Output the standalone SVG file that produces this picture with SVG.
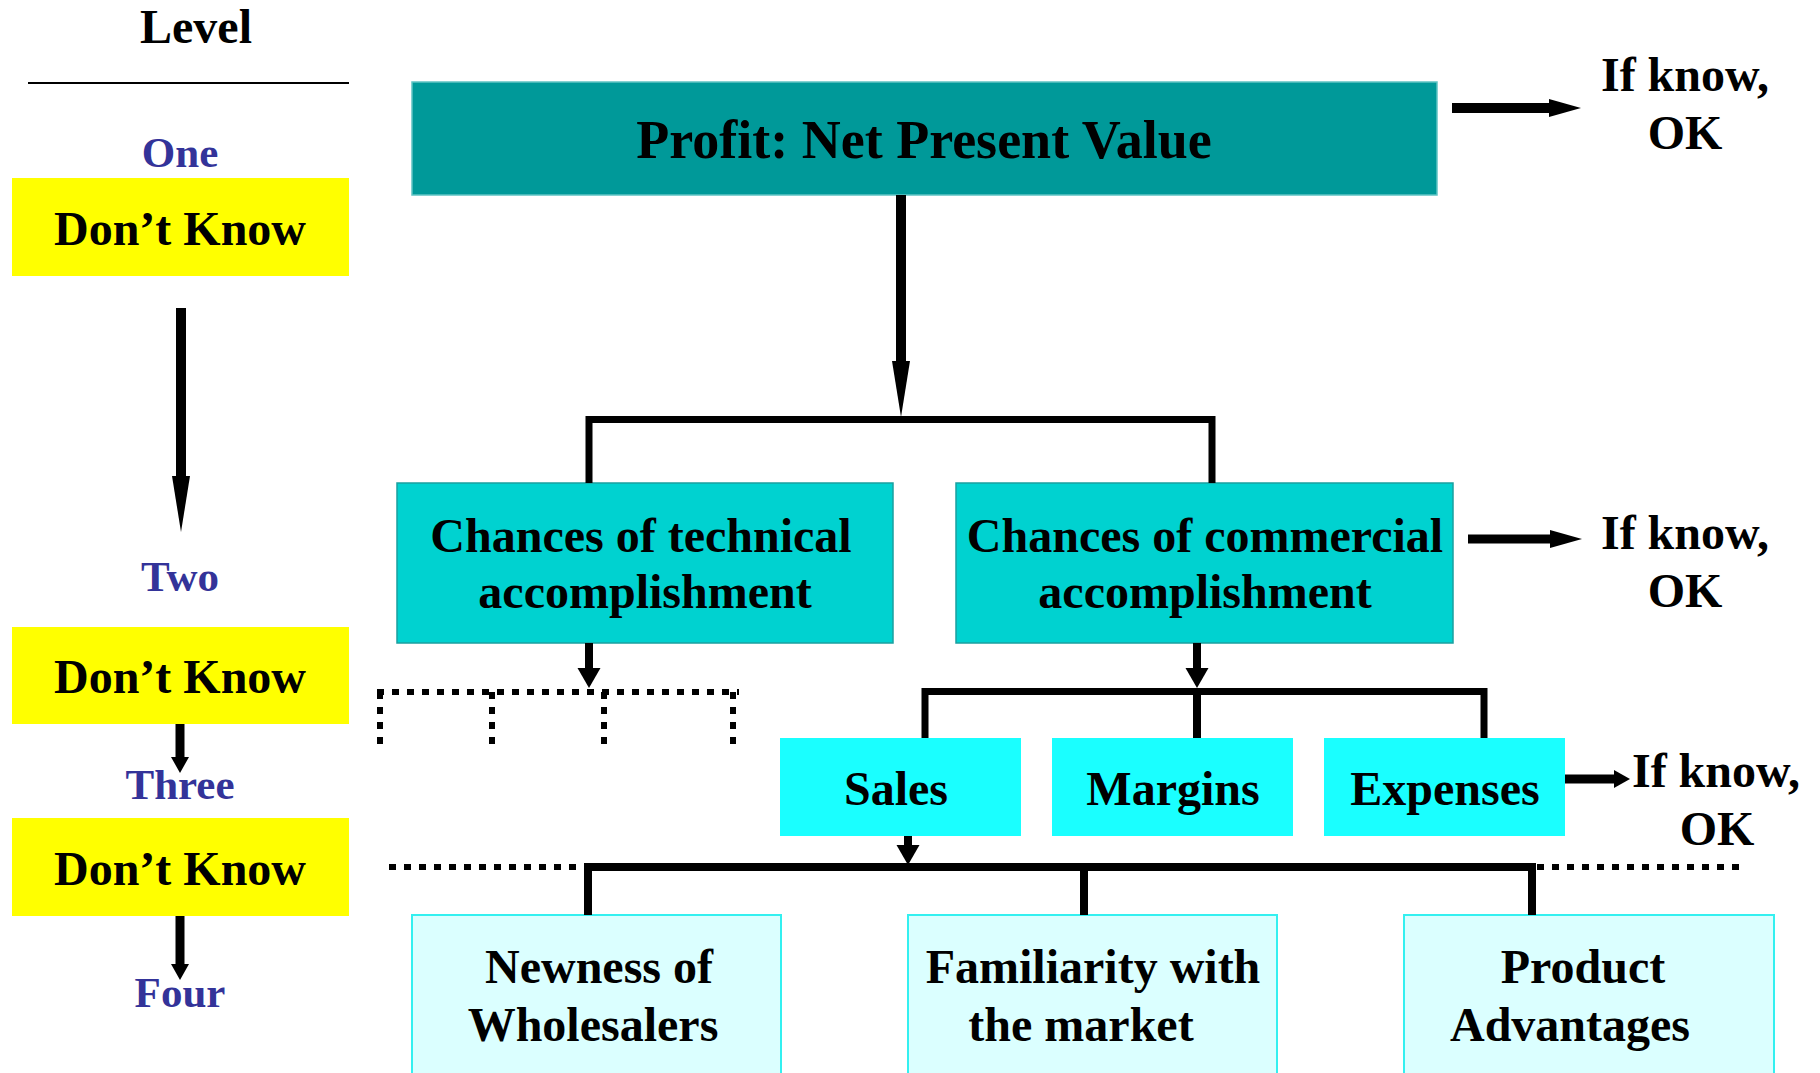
<svg xmlns="http://www.w3.org/2000/svg" width="1820" height="1073" viewBox="0 0 1820 1073">
  <style>
    text { font-family: "Liberation Serif", "Times New Roman", serif; font-weight: bold; fill: #000; text-anchor: middle; }
    .t48 { font-size: 48px; }
    .lvl { font-size: 43px; fill: #333399; }
    .yellow { fill: #FFFF00; }
    .root { fill: #009999; stroke: #5FC4C4; stroke-width: 1.5; }
    .mid { fill: #00D2D0; stroke: #1AA0A0; stroke-width: 1.5; }
    .sub { fill: #1AFFFF; }
    .leaf { fill: #DBFFFF; stroke: #33F0F0; stroke-width: 2; }
    .wire { fill: none; stroke: #000; stroke-linejoin: miter; }
    .dots { fill: none; stroke: #000; stroke-width: 6; stroke-dasharray: 7 8; }
  </style>
  <defs>
    <marker id="hLong" markerUnits="userSpaceOnUse" markerWidth="56" markerHeight="18" refX="0" refY="9" orient="auto" overflow="visible">
      <path d="M0,0 L56,9 L0,18 Z" fill="#000"/>
    </marker>
    <marker id="hMid" markerUnits="userSpaceOnUse" markerWidth="20" markerHeight="23" refX="0" refY="11.5" orient="auto" overflow="visible">
      <path d="M0,0 L20,11.5 L0,23 Z" fill="#000"/>
    </marker>
    <marker id="hRight" markerUnits="userSpaceOnUse" markerWidth="32" markerHeight="18" refX="0" refY="9" orient="auto" overflow="visible">
      <path d="M0,0 L32,9 L0,18 Z" fill="#000"/>
    </marker>
    <marker id="hSmall" markerUnits="userSpaceOnUse" markerWidth="16" markerHeight="18" refX="0" refY="9" orient="auto" overflow="visible">
      <path d="M0,0 L16,9 L0,18 Z" fill="#000"/>
    </marker>
  </defs>

  <!-- level column -->
  <g id="level-column">
    <text class="t48" x="196" y="43">Level</text>
    <line x1="28" y1="83" x2="349" y2="83" stroke="#000" stroke-width="2"/>
    <text class="lvl" x="180" y="167">One</text>
    <text class="lvl" x="180" y="591">Two</text>
    <text class="lvl" x="180" y="799">Three</text>
    <text class="lvl" x="180" y="1007">Four</text>
  </g>
  <g id="dk-one">
    <rect class="yellow" x="12" y="178" width="337" height="98"/>
    <text class="t48" x="180" y="245">Don’t Know</text>
  </g>
  <g id="dk-two">
    <rect class="yellow" x="12" y="627" width="337" height="97"/>
    <text class="t48" x="180" y="693">Don’t Know</text>
  </g>
  <g id="dk-three">
    <rect class="yellow" x="12" y="818" width="337" height="98"/>
    <text class="t48" x="180" y="885">Don’t Know</text>
  </g>

  <!-- tree nodes -->
  <g id="profit">
    <rect class="root" x="412" y="82" width="1025" height="113"/>
    <text x="924" y="158" font-size="54">Profit: Net Present Value</text>
  </g>
  <g id="technical">
    <rect class="mid" x="397" y="483" width="496" height="160"/>
    <text class="t48" x="641" y="552">Chances of technical</text>
    <text class="t48" x="645" y="608">accomplishment</text>
  </g>
  <g id="commercial">
    <rect class="mid" x="956" y="483" width="497" height="160"/>
    <text class="t48" x="1205" y="552">Chances of commercial</text>
    <text class="t48" x="1205" y="608">accomplishment</text>
  </g>
  <g id="sales">
    <rect class="sub" x="780" y="738" width="241" height="98"/>
    <text class="t48" x="896" y="805">Sales</text>
  </g>
  <g id="margins">
    <rect class="sub" x="1052" y="738" width="241" height="98"/>
    <text class="t48" x="1173" y="805">Margins</text>
  </g>
  <g id="expenses">
    <rect class="sub" x="1324" y="738" width="241" height="98"/>
    <text class="t48" x="1445" y="805">Expenses</text>
  </g>
  <g id="wholesalers">
    <rect class="leaf" x="412" y="915" width="369" height="170"/>
    <text class="t48" x="599" y="983">Newness of</text>
    <text class="t48" x="593" y="1041">Wholesalers</text>
  </g>
  <g id="familiarity">
    <rect class="leaf" x="908" y="915" width="369" height="170"/>
    <text class="t48" x="1093" y="983">Familiarity with</text>
    <text class="t48" x="1081" y="1041">the market</text>
  </g>
  <g id="advantages">
    <rect class="leaf" x="1404" y="915" width="370" height="170"/>
    <text class="t48" x="1583" y="983">Product</text>
    <text class="t48" x="1570" y="1041">Advantages</text>
  </g>

  <!-- side notes -->
  <g id="note-profit">
    <text class="t48" x="1685" y="91">If know,</text>
    <text class="t48" x="1685" y="149">OK</text>
  </g>
  <g id="note-commercial">
    <text class="t48" x="1685" y="549">If know,</text>
    <text class="t48" x="1685" y="607">OK</text>
  </g>
  <g id="note-expenses">
    <text class="t48" x="1716" y="787">If know,</text>
    <text class="t48" x="1717" y="845">OK</text>
  </g>

  <!-- connectors -->
  <g id="connectors">
    <!-- level column arrows -->
    <line class="wire" x1="181" y1="308" x2="181" y2="476" stroke-width="10" marker-end="url(#hLong)"/>
    <line class="wire" x1="180" y1="724" x2="180" y2="757" stroke-width="9" marker-end="url(#hSmall)"/>
    <line class="wire" x1="180" y1="916" x2="180" y2="964" stroke-width="9" marker-end="url(#hSmall)"/>

    <!-- profit to level two -->
    <line class="wire" x1="901" y1="195" x2="901" y2="361" stroke-width="10" marker-end="url(#hLong)"/>
    <path class="wire" d="M589,483 V419.5 H1212 V483" stroke-width="7"/>

    <!-- "if know" arrows -->
    <line class="wire" x1="1452" y1="108" x2="1549" y2="108" stroke-width="10" marker-end="url(#hRight)"/>
    <line class="wire" x1="1468" y1="539" x2="1550" y2="539" stroke-width="9" marker-end="url(#hRight)"/>
    <line class="wire" x1="1565" y1="779" x2="1614" y2="779" stroke-width="9" marker-end="url(#hSmall)"/>

    <!-- technical branch (undetailed) -->
    <line class="wire" x1="589" y1="643" x2="589" y2="668" stroke-width="8" marker-end="url(#hMid)"/>
    <path class="dots" d="M377,692 H739"/>
    <path class="dots" d="M380,692 V747"/>
    <path class="dots" d="M492,692 V747"/>
    <path class="dots" d="M604,692 V747"/>
    <path class="dots" d="M733,692 V747"/>

    <!-- commercial branch -->
    <line class="wire" x1="1197" y1="643" x2="1197" y2="668" stroke-width="8" marker-end="url(#hMid)"/>
    <path class="wire" d="M925,738 V691.5 H1484 V738" stroke-width="7"/>
    <line class="wire" x1="1197" y1="688" x2="1197" y2="738" stroke-width="8"/>

    <!-- sales branch -->
    <line class="wire" x1="908" y1="836" x2="908" y2="845" stroke-width="8" marker-end="url(#hMid)"/>
    <path class="dots" d="M389,867 H584"/>
    <path class="dots" d="M1537,867 H1742"/>
    <path class="wire" d="M588,915 V867 H1532 V915" stroke-width="8"/>
    <line class="wire" x1="1084" y1="867" x2="1084" y2="915" stroke-width="8"/>
  </g>
</svg>
